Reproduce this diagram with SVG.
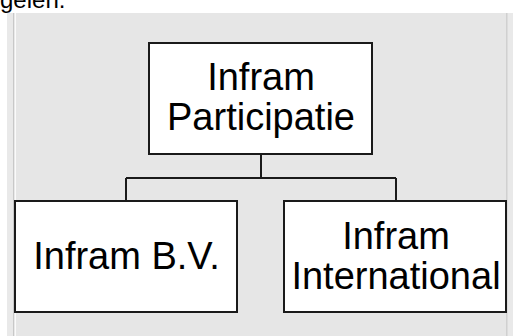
<svg xmlns="http://www.w3.org/2000/svg" width="513" height="336" viewBox="0 0 513 336">
<style>
.box{fill:#fff;stroke:#1a1a1a;stroke-width:2}
.lbl{font-family:"Liberation Sans",Arial,sans-serif;font-size:38px;fill:#000;text-anchor:middle}
.conn{fill:none;stroke:#1a1a1a;stroke-width:2}
</style>
<rect x="0" y="0" width="513" height="336" fill="#fff"/>
<text x="0" y="8" font-family="Liberation Sans, Arial, sans-serif" font-size="24" fill="#000">gelen.</text>
<rect x="7" y="13" width="506" height="323" fill="#e9e9e9"/>
<rect x="16" y="13" width="490" height="323" fill="#e6e6e6"/>
<rect x="13" y="13" width="1.5" height="323" fill="#c8c8c8"/>
<rect x="14.5" y="13" width="1.5" height="323" fill="#fafafa"/>
<rect x="506" y="13" width="1.5" height="323" fill="#d0d0d0"/>
<g id="connectors">
<path class="conn" d="M261 154 V178 M126 178 H396 M126 178 V201 M396 178 V201"/>
</g>
<g id="node-participatie">
<rect class="box" x="149" y="43" width="223" height="111"/>
<text class="lbl" x="261" y="90">Infram</text>
<text class="lbl" x="261" y="130">Participatie</text>
</g>
<g id="node-bv">
<rect class="box" x="15" y="201" width="222" height="111"/>
<text class="lbl" x="126.5" y="269">Infram B.V.</text>
</g>
<g id="node-international">
<rect class="box" x="284" y="201" width="222" height="111"/>
<text class="lbl" x="396" y="249">Infram</text>
<text class="lbl" x="396" y="289">International</text>
</g>
</svg>
